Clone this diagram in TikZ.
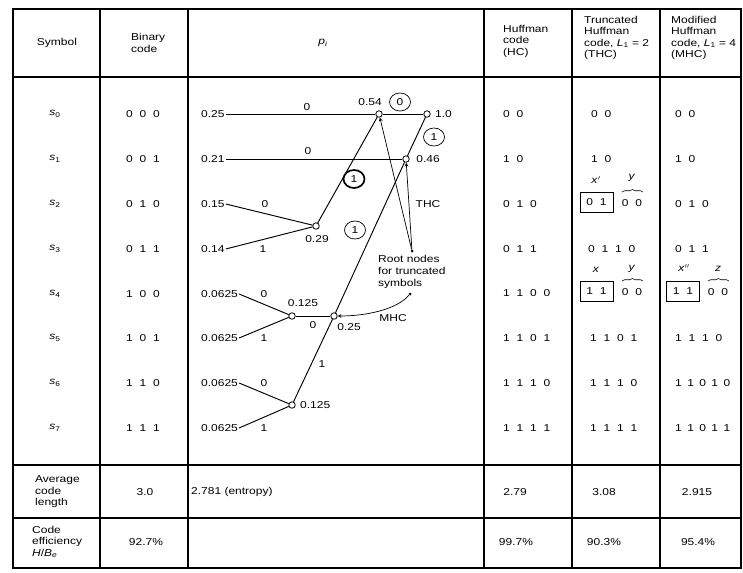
\documentclass[tikz,border=0pt]{standalone}
\usepackage{fontspec}
\setmainfont[FakeStretch=1.2]{Liberation Sans}
\usetikzlibrary{shapes.geometric,decorations.pathreplacing}
\newcommand\cdgap{\spaceskip 6.8pt\relax}
\newcommand\cdgapn{\spaceskip 5.4pt\relax}

\begin{document}
\begin{tikzpicture}[x=1pt, y=-1pt,
        every node/.style={font=\fontsize{10}{11.5}\selectfont, inner sep=1pt},
        vtx/.style={circle, draw, fill=white, inner sep=0pt, minimum size=6.5pt, line width=0.8pt},
        ring/.style={ellipse, draw, inner sep=0pt, minimum width=21pt, minimum height=18pt, line width=0.7pt},
        dot/.style={circle, fill, inner sep=0pt, minimum size=3pt},
        cd/.style={anchor=west, font=\fontsize{10}{11.5}\selectfont\cdgap},
        cbox/.style={cd, anchor=center, draw, minimum width=33pt, minimum height=20pt, line width=0.8pt}]
        \path[use as bounding box, fill=white] (0,0) rectangle (743,572);
        \draw[line width=1.2pt] (13,9) rectangle (741,568);
        \draw[line width=1.2pt] (100,9) -- (100,568) (188,9) -- (188,568) (484,9) -- (484,568)
            (572,9) -- (572,568) (660,9) -- (660,568)
            (13,77) -- (741,77) (13,465) -- (741,465) (13,518) -- (741,518);

        \node (hsym) at (57,43) {Symbol};
        \node[anchor=west, align=left] (hbin) at (130,43) {Binary\\code};
        \node (hp) at (323,43) {\textit{p}\textsubscript{\textit{i}}};
        \node[anchor=west, align=left] (hhc) at (502,41) {Huffman\\code\\(HC)};
        \node[anchor=west, align=left] (hthc) at (583,38) {Truncated\\Huffman\\code, \textit{L}\textsubscript{1} = 2\\(THC)};
        \node[anchor=west, align=left] (hmhc) at (670,38) {Modified\\Huffman\\code, \textit{L}\textsubscript{1} = 4\\(MHC)};

        \node (s0) at (55,114) {\textit{s}\textsubscript{0}};
        \node (s1) at (55,159) {\textit{s}\textsubscript{1}};
        \node (s2) at (55,204) {\textit{s}\textsubscript{2}};
        \node (s3) at (55,249) {\textit{s}\textsubscript{3}};
        \node (s4) at (55,294) {\textit{s}\textsubscript{4}};
        \node (s5) at (55,338) {\textit{s}\textsubscript{5}};
        \node (s6) at (55,383) {\textit{s}\textsubscript{6}};
        \node (s7) at (55,428) {\textit{s}\textsubscript{7}};

        \node[cd, anchor=center] (b0) at (143,114) {0 0 0};
        \node[cd, anchor=center] (b1) at (143,159) {0 0 1};
        \node[cd, anchor=center] (b2) at (143,204) {0 1 0};
        \node[cd, anchor=center] (b3) at (143,249) {0 1 1};
        \node[cd, anchor=center] (b4) at (143,294) {1 0 0};
        \node[cd, anchor=center] (b5) at (143,338) {1 0 1};
        \node[cd, anchor=center] (b6) at (143,383) {1 1 0};
        \node[cd, anchor=center] (b7) at (143,428) {1 1 1};

        \node[anchor=west] (p0) at (200,114) {0.25};
        \node[anchor=west] (p1) at (200,159) {0.21};
        \node[anchor=west] (p2) at (200,204) {0.15};
        \node[anchor=west] (p3) at (200,249) {0.14};
        \node[anchor=west] (p4) at (200,294) {0.0625};
        \node[anchor=west] (p5) at (200,338) {0.0625};
        \node[anchor=west] (p6) at (200,383) {0.0625};
        \node[anchor=west] (p7) at (200,428) {0.0625};

        \node[vtx] (v029) at (316,226) {};
        \node[vtx] (v054) at (379,114) {};
        \node[vtx] (v10) at (427,114) {};
        \node[vtx] (v046) at (406,159) {};
        \node[vtx] (v0125a) at (292,316) {};
        \node[vtx] (v025) at (334,316) {};
        \node[vtx] (v0125b) at (292,405) {};

        \draw[line width=0.95pt] (p0) -- (v054) -- (v10);
        \draw[line width=0.95pt] (p1) -- (v046);
        \draw[line width=0.95pt] (v10) -- (v046) -- (v025) -- (v0125b);
        \draw[line width=0.95pt] (v054) -- (v029);
        \draw[line width=0.95pt] (p2.east) -- (v029);
        \draw[line width=0.95pt] (p3.east) -- (v029);
        \draw[line width=0.95pt] (p4.east) -- (v0125a);
        \draw[line width=0.95pt] (p5.east) -- (v0125a);
        \draw[line width=0.95pt] (v0125a) -- (v025);
        \draw[line width=0.95pt] (p6.east) -- (v0125b);
        \draw[line width=0.95pt] (p7.east) -- (v0125b);

        \node (e0) at (307,107) {0};
        \node (e1) at (308,151) {0};
        \node (e2) at (265,204) {0};
        \node (e3) at (263,249) {1};
        \node (e4) at (264,294) {0};
        \node (e5) at (264,338) {1};
        \node (e6) at (313,325) {0};
        \node (e7) at (322,364) {1};
        \node (e8) at (264,383) {0};
        \node (e9) at (264,428) {1};

        \node (l054) at (370,102) {0.54};
        \node[anchor=west] (l10) at (434,114) {1.0};
        \node (l046) at (428,159) {0.46};
        \node (l029) at (317,239) {0.29};
        \node (l0125a) at (303,303) {0.125};
        \node (l025) at (349,327) {0.25};
        \node[anchor=west] (l0125b) at (299,405) {0.125};

        \node[ring] (r0) at (400,102) {0};
        \node[ring] (r1) at (434,137) {1};
        \node[ring, line width=1.7pt] (r2) at (354,179) {1};
        \node[ring] (r3) at (355,230) {1};

        \node (thc) at (428,204) {THC};
        \node[dot] (dot1) at (412,251) {};
        \draw[-stealth, line width=0.7pt] (dot1) -- (v054);
        \draw[-stealth, line width=0.7pt] (dot1) -- (v046);
        \node[anchor=north west, align=left, font=\fontsize{10}{12}\selectfont] (root) at (377,254) {Root nodes\\for truncated\\symbols};
        \node[dot] (dot2) at (410,294) {};
        \draw[-stealth, line width=0.7pt] (dot2) .. controls (396,310) and (365,316) .. (v025);
        \node (mhc) at (393,318) {MHC};

        \node[cd] (h0) at (502,114) {0 0};
        \node[cd] (h1) at (502,159) {1 0};
        \node[cd] (h2) at (502,204) {0 1 0};
        \node[cd] (h3) at (502,249) {0 1 1};
        \node[cd] (h4) at (502,293) {1 1 0 0};
        \node[cd] (h5) at (502,338) {1 1 0 1};
        \node[cd] (h6) at (502,383) {1 1 1 0};
        \node[cd] (h7) at (502,428) {1 1 1 1};

        \node[cd] (t0) at (590,114) {0 0};
        \node[cd] (t1) at (590,159) {1 0};
        \node[cbox] (t2a) at (596.5,202) {0 1};
        \node[cd, anchor=center] (t2b) at (632,203) {0 0};
        \node (t2x) at (596,180) {\textit{x}$'$};
        \node (t2y) at (632,178) {\textit{y}};
        \draw[decorate, decoration={brace, amplitude=2.5pt}, line width=0.6pt] (622,192) -- (643,192);
        \node[cd] (t3) at (587,249) {0 1 1 0};
        \node[cbox] (t4a) at (596.5,291) {1 1};
        \node[cd, anchor=center] (t4b) at (632,292) {0 0};
        \node (t4x) at (596,270) {\textit{x}};
        \node (t4y) at (632,269) {\textit{y}};
        \draw[decorate, decoration={brace, amplitude=2.5pt}, line width=0.6pt] (622,281) -- (643,281);
        \node[cd] (t5) at (589,338) {1 1 0 1};
        \node[cd] (t6) at (589,383) {1 1 1 0};
        \node[cd] (t7) at (589,428) {1 1 1 1};

        \node[cd] (m0) at (674,114) {0 0};
        \node[cd] (m1) at (674,159) {1 0};
        \node[cd] (m2) at (674,204) {0 1 0};
        \node[cd] (m3) at (674,249) {0 1 1};
        \node[cbox] (m4a) at (683,291) {1 1};
        \node[cd, anchor=center] (m4b) at (718,292) {0 0};
        \node (m4x) at (684,268) {\textit{x}$''$};
        \node (m4z) at (718,269) {\textit{z}};
        \draw[decorate, decoration={brace, amplitude=2.5pt}, line width=0.6pt] (708,281) -- (729,281);
        \node[cd] (m5) at (674,338) {1 1 1 0};
        \node[cd, font=\fontsize{10}{11.5}\selectfont\cdgapn] (m6) at (674,383) {1 1 0 1 0};
        \node[cd, font=\fontsize{10}{11.5}\selectfont\cdgapn] (m7) at (674,428) {1 1 0 1 1};

        \node[anchor=west, align=left] (avg) at (34,492) {Average\\code\\length};
        \node (avgb) at (145,492) {3.0};
        \node[anchor=west] (avgp) at (190,492) {2.781 (entropy)};
        \node (avgh) at (515,492) {2.79};
        \node (avgt) at (604,492) {3.08};
        \node (avgm) at (697,492) {2.915};
        \node[anchor=west, align=left] (eff) at (31,542) {Code\\efficiency\\\textit{H}/\textit{B}\textsubscript{\textit{e}}};
        \node (effb) at (146,542) {92.7\%};
        \node (effh) at (516,542) {99.7\%};
        \node (efft) at (604,542) {90.3\%};
        \node (effm) at (698,542) {95.4\%};
    \end{tikzpicture}
\end{document}
